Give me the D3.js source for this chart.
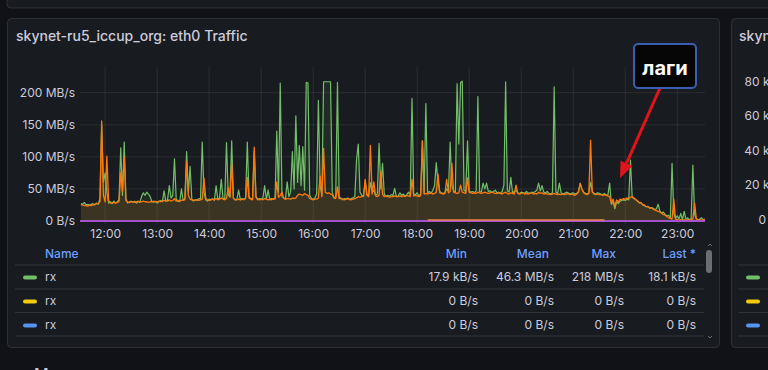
<!DOCTYPE html>
<html>
<head>
<meta charset="utf-8">
<script src="https://cdn.jsdelivr.net/npm/d3@7"></script>
<style>
  body{margin:0;background:#111217;overflow:hidden}
  text{font-family:Inter,"Noto Sans",sans-serif}
</style>
</head>
<body>
<svg id="chart" width="768" height="370"></svg>
<script>
// samples every 2 minutes, starting 11:32
var startTime = "11:32", stepMinutes = 2;

// green rx series, MB/s (one line per hour)
var rxMBps = [
  27,26,29,25,26,24,26,27,25,28, 26,35,150,60,75,45,28,30,27,31, 28,30,33,114,40,123,35,28,30,31,
  29,31,28,30,29,38,44,40,45,42, 38,30,29,31,28,30,32,30,47,31, 33,55,36,40,97,34,31,30,50,32,
  35,108,45,85,34,31,33,32,35,34, 123,45,33,31,34,33,35,32,55,34, 36,65,35,34,122,40,38,125,36,33,
  34,48,33,35,34,36,123,38,35,34, 108,37,33,35,34,36,55,34,48,33, 35,34,36,140,45,215,38,36,34,61,
  38,45,108,50,164,60,118,55,116,48, 216,215,40,35,34,36,42,188,55,40, 217,217,217,217,217,45,36,38,216,36,
  36,33,35,34,36,33,35,36,38,95, 120,45,40,38,62,42,40,60,45,48, 40,42,121,50,90,42,38,40,39,41,
  40,51,38,39,44,40,42,39,41,45, 40,191,42,41,44,39,42,125,45,183, 44,46,43,48,55,91,60,46,44,43,
  44,50,46,123,55,47,45,214,120,216, 218,48,46,125,47,45,46,44,47,194, 46,45,59,50,59,46,47,45,46,48,
  44,45,43,46,56,217,47,45,68,44, 46,48,44,43,45,44,43,46,44,43, 45,44,46,48,59,47,55,45,44,46,
  43,42,44,209,45,43,59,44,42,43, 45,44,42,43,44,42,43,46,59,50, 45,43,42,44,60,46,43,42,44,43,
  42,41,43,40,41,59,26,30,19,30, 27,31,32,33,32,34,33,95,37,35, 33,32,28,29,25,24,22,23,20,21,
  20,18,19,26,15,13,14,10,8,9, 5,90,12,4,8,3,12,2,15,3, 5,2,4,87,10,4,2,3,5,2, 3
];

// orange series, MB/s
var txMBps = [
  25,25,24,24,23,25,24,25,26,27, 27,30,156,40,30,101,32,28,28,29, 28,29,30,75,47,100,32,29,29,30,
  30,29,30,31,30,30,31,30,30,29, 30,30,31,30,30,31,30,31,32,31, 31,33,31,32,35,31,32,31,32,33,
  33,92,40,34,33,32,33,33,32,33, 34,67,36,33,32,33,34,33,35,33, 34,36,34,33,35,52,37,90,35,33,
  33,34,33,34,33,35,68,36,34,33, 115,38,34,33,34,33,35,34,33,34, 33,35,34,61,37,40,45,36,34,35,
  35,34,36,35,36,40,42,41,40,43, 41,40,35,34,33,34,34,36,70,38, 113,45,43,44,42,41,36,35,53,35,
  35,34,33,34,35,34,33,34,35,36, 38,37,38,39,65,40,38,118,42,61, 39,38,40,77,42,38,39,38,37,38,
  38,39,38,38,39,38,39,38,40,39, 38,65,39,40,39,38,40,125,42,43, 42,43,44,42,43,45,73,44,43,42,
  43,65,44,46,90,45,44,43,44,56, 45,44,43,67,45,44,43,44,43,45, 44,43,44,45,44,43,44,45,44,43,
  43,44,43,42,44,45,43,42,44,43, 42,56,43,42,43,44,42,43,42,43, 44,42,43,42,45,43,44,42,43,42,
  42,41,42,43,42,41,42,41,42,41, 42,43,41,42,41,40,42,45,58,50, 44,42,41,43,126,45,42,41,42,41,
  41,40,41,40,39,38,28,34,23,33, 30,34,33,35,34,36,35,37,38,36, 34,31,29,28,26,25,23,22,21,20,
  19,17,16,15,14,12,10,9,7,5, 4,3,34,3,2,1,2,1,2,1, 2,1,2,3,28,3,1,2,1,2, 2
];

// small series just above zero
var lowTimes = ["18:12", "21:36"];
var lowMBps = [1.5, 1.5];

// flat zero series
var zeroTimes = ["11:31", "23:32"];
var zeroMBps = [0, 0];

var timeDomain = ["11:31", "23:32"];
var hourTicks = ["12:00","13:00","14:00","15:00","16:00","17:00","18:00","19:00","20:00","21:00","22:00","23:00"];
var yTicks = [0, 50, 100, 150, 200];

var legendNames = ["rx", "rx", "rx"];
var legendColors = ["#73bf69", "#f2cc0c", "#5794f2"];
var legendMin = ["17.9 kB/s", "0 B/s", "0 B/s"];
var legendMean = ["46.3 MB/s", "0 B/s", "0 B/s"];
var legendMax = ["218 MB/s", "0 B/s", "0 B/s"];
var legendLast = ["18.1 kB/s", "0 B/s", "0 B/s"];

var sideTicks = ["0 B/s", "20 kB/s", "40 kB/s", "60 kB/s", "80 kB/s"];

var textColor = "#ccccdc";
var gridColor = "rgba(204,204,220,0.10)";
var borderColor = "rgba(204,204,220,0.14)";

var parseT = d3.timeParse("%H:%M");
var t0 = parseT(startTime);
function sampleTime(i){ return d3.timeMinute.offset(t0, i*stepMinutes); }

var svg = d3.select("#chart");

// panels
svg.append("rect").attr("x",7).attr("y",-20).attr("width",800).attr("height",28).attr("rx",4)
  .attr("fill","#181b1f").attr("stroke",borderColor);
svg.append("rect").attr("x",7.5).attr("y",18.5).attr("width",712).attr("height",329).attr("rx",4)
  .attr("fill","#181b1f").attr("stroke",borderColor);
svg.append("rect").attr("x",731.5).attr("y",18.5).attr("width",80).attr("height",329).attr("rx",4)
  .attr("fill","#181b1f").attr("stroke",borderColor);

svg.append("text").attr("x",16).attr("y",41).attr("fill",textColor)
  .attr("font-size",14).attr("font-weight",500)
  .text("skynet-ru5_iccup_org: eth0 Traffic");

var x = d3.scaleTime().domain(timeDomain.map(parseT)).range([80, 705]);
var y = d3.scaleLinear().domain([0, 240]).range([221, 67]);

// grid
svg.append("g").selectAll("line").data(hourTicks).enter().append("line")
  .attr("x1",function(d){return x(parseT(d));}).attr("x2",function(d){return x(parseT(d));})
  .attr("y1",67).attr("y2",224).attr("stroke",gridColor);
svg.append("g").selectAll("line").data(yTicks).enter().append("line")
  .attr("x1",80).attr("x2",705)
  .attr("y1",function(d){return y(d);}).attr("y2",function(d){return y(d);})
  .attr("stroke",gridColor);

// axes labels
var yAxis = svg.append("g").attr("transform","translate(75,0)")
  .call(d3.axisLeft(y).tickValues(yTicks).tickSize(0).tickPadding(0)
    .tickFormat(function(v){ return v===0 ? "0 B/s" : v+" MB/s"; }));
var xAxis = svg.append("g").attr("transform","translate(0,229)")
  .call(d3.axisBottom(x).tickValues(hourTicks.map(parseT)).tickSize(0).tickPadding(0)
    .tickFormat(d3.timeFormat("%H:%M")));
[yAxis, xAxis].forEach(function(a){
  a.select(".domain").remove();
  a.selectAll("text").attr("fill",textColor).attr("font-size",12)
    .attr("font-family","Inter, 'Noto Sans', sans-serif");
});

// series
svg.append("clipPath").attr("id","plot").append("rect")
  .attr("x",80).attr("y",60).attr("width",625).attr("height",165);
var plot = svg.append("g").attr("clip-path","url(#plot)");

function drawSeries(vals, timeOf, color, fillOpacity, width){
  var pts = vals.map(function(v,i){ return [timeOf(i), v]; });
  if(fillOpacity>0){
    plot.append("path").datum(pts)
      .attr("d", d3.area().x(function(d){return x(d[0]);}).y0(y(0)).y1(function(d){return y(d[1]);}))
      .attr("fill",color).attr("fill-opacity",fillOpacity);
  }
  plot.append("path").datum(pts)
    .attr("d", d3.line().x(function(d){return x(d[0]);}).y(function(d){return y(d[1]);}))
    .attr("fill","none").attr("stroke",color).attr("stroke-width",width)
    .attr("stroke-linejoin","round");
}
drawSeries(rxMBps, sampleTime, "#73bf69", 0.1, 1.2);
drawSeries(txMBps, sampleTime, "#ff780a", 0.12, 1.3);
drawSeries(zeroMBps, function(i){return parseT(zeroTimes[i]);}, "#f2cc0c", 0, 2);
drawSeries(zeroMBps, function(i){return parseT(zeroTimes[i]);}, "#5794f2", 0, 2);
drawSeries(zeroMBps, function(i){return parseT(zeroTimes[i]);}, "#a352cc", 0, 2);
drawSeries(lowMBps, function(i){return parseT(lowTimes[i]);}, "#ef8354", 0, 1.5);

// annotation
var arrowStart = [660, 88], arrowTip = [620, 178];
var dx = arrowTip[0]-arrowStart[0], dy = arrowTip[1]-arrowStart[1];
var len = Math.sqrt(dx*dx+dy*dy), ux = dx/len, uy = dy/len;
var headLen = 16, headHalf = 6.5;
var bx = arrowTip[0]-ux*headLen, by = arrowTip[1]-uy*headLen;
svg.append("line").attr("x1",arrowStart[0]).attr("y1",arrowStart[1]).attr("x2",bx).attr("y2",by)
  .attr("stroke","#e0141a").attr("stroke-width",3);
svg.append("polygon")
  .attr("points",[arrowTip, [bx-uy*headHalf, by+ux*headHalf], [bx+uy*headHalf, by-ux*headHalf]].join(" "))
  .attr("fill","#e0141a");
svg.append("rect").attr("x",634).attr("y",44).attr("width",62).attr("height",44).attr("rx",4)
  .attr("fill","#060607").attr("stroke","#3a5fb0").attr("stroke-width",2);
svg.append("text").attr("x",665).attr("y",75).attr("text-anchor","middle")
  .attr("fill","#ffffff").attr("font-size",20).attr("font-weight",700).text("лаги");

// legend table
var headerY = 258, rowY0 = 281, rowH = 24;
svg.append("text").attr("x",45).attr("y",headerY).attr("fill","#6e9fff")
  .attr("font-size",12).attr("font-weight",500).text("Name");
var headers = [["Min",467],["Mean",549],["Max",616],["Last *",696]];
headers.forEach(function(h){
  svg.append("text").attr("x",h[1]).attr("y",headerY).attr("text-anchor","end")
    .attr("fill","#6e9fff").attr("font-size",12).attr("font-weight",500).text(h[0]);
});
[265, 289, 312.5, 336].forEach(function(ly){
  svg.append("line").attr("x1",15).attr("x2",704).attr("y1",ly).attr("y2",ly)
    .attr("stroke",borderColor);
});
var rows = svg.append("g").selectAll("g").data(legendNames).enter().append("g")
  .attr("transform",function(d,i){return "translate(0,"+(rowY0+rowH*i)+")";});
rows.append("rect").attr("x",23).attr("y",-5.5).attr("width",14).attr("height",4).attr("rx",2)
  .attr("fill",function(d,i){return legendColors[i];});
rows.append("text").attr("x",45).attr("fill",textColor).attr("font-size",12).text(function(d){return d;});
[[legendMin,478],[legendMean,554],[legendMax,624],[legendLast,696]].forEach(function(c){
  rows.append("text").attr("x",c[1]).attr("text-anchor","end").attr("fill",textColor)
    .attr("font-size",12).text(function(d,i){return c[0][i];});
});

// scrollbar
svg.append("rect").attr("x",706).attr("y",250).attr("width",6).attr("height",23).attr("rx",3)
  .attr("fill","#6b6d72");
svg.append("path").attr("d","M708,246 L710,244 L712,246").attr("fill","none").attr("stroke","#6b6d72");
svg.append("path").attr("d","M708,336 L710,338 L712,336").attr("fill","none").attr("stroke","#6b6d72");

// right panel (partly visible)
svg.append("text").attr("x",739).attr("y",41).attr("fill",textColor)
  .attr("font-size",14).attr("font-weight",500).text("skynet-ru5_iccup_org");
var ySide = d3.scaleLinear().domain([0, sideTicks.length-1]).range([220, 81.7]);
svg.append("g").selectAll("text").data(sideTicks).enter().append("text")
  .attr("x",788).attr("y",function(d,i){return ySide(i);}).attr("dy","0.32em")
  .attr("text-anchor","end").attr("fill",textColor).attr("font-size",12).text(function(d){return d;});
[265, 289, 312.5, 336].forEach(function(ly){
  svg.append("line").attr("x1",738).attr("x2",770).attr("y1",ly).attr("y2",ly).attr("stroke",borderColor);
});
legendColors.forEach(function(c,i){
  svg.append("rect").attr("x",746).attr("y",rowY0+rowH*i-5.5).attr("width",14).attr("height",4)
    .attr("rx",2).attr("fill",c);
});

// next row title, cut off by the window
svg.append("text").attr("x",34).attr("y",380).attr("fill",textColor)
  .attr("font-size",16).attr("font-weight",500).text("M");
</script>
</body>
</html>
